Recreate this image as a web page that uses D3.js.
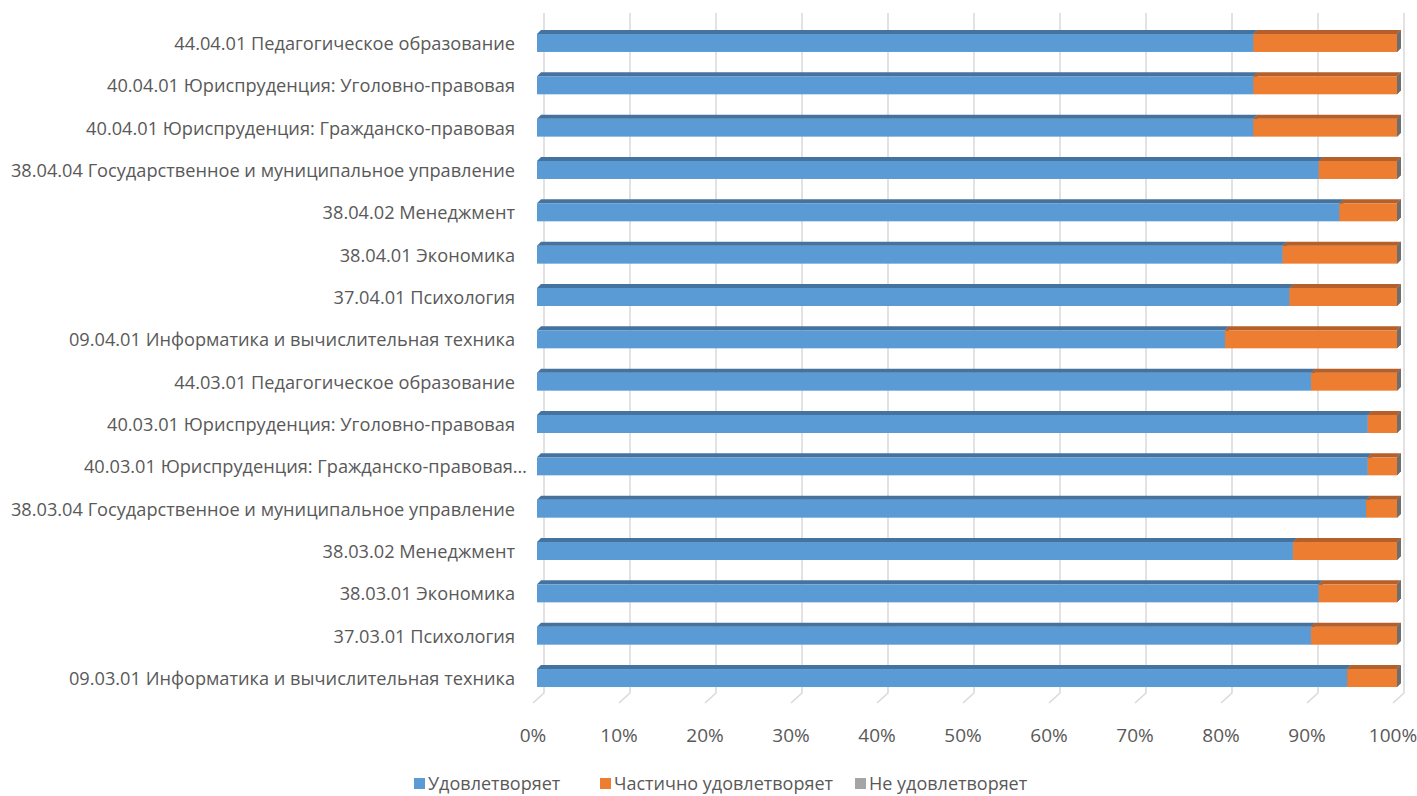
<!DOCTYPE html>
<html><head><meta charset="utf-8">
<script src="https://cdn.jsdelivr.net/npm/d3@7"></script>
<style>html,body{margin:0;padding:0;background:#fff;overflow:hidden}</style>
</head><body>
<svg id="c" width="1417" height="796"></svg>
<script>
const categories = [
  "44.04.01 Педагогическое образование",
  "40.04.01 Юриспруденция: Уголовно-правовая",
  "40.04.01 Юриспруденция: Гражданско-правовая",
  "38.04.04 Государственное и муниципальное управление",
  "38.04.02 Менеджмент",
  "38.04.01 Экономика",
  "37.04.01 Психология",
  "09.04.01 Информатика и вычислительная техника",
  "44.03.01 Педагогическое образование",
  "40.03.01 Юриспруденция: Уголовно-правовая",
  "40.03.01 Юриспруденция: Гражданско-правовая…",
  "38.03.04 Государственное и муниципальное управление",
  "38.03.02 Менеджмент",
  "38.03.01 Экономика",
  "37.03.01 Психология",
  "09.03.01 Информатика и вычислительная техника"
];
const seriesNames = ["Удовлетворяет", "Частично удовлетворяет", "Не удовлетворяет"];
const satisfied = [83.3, 83.3, 83.3, 90.9, 93.3, 86.7, 87.5, 80.0, 90.0, 96.6, 96.6, 96.4, 87.9, 90.9, 90.0, 94.2];
const partial   = [16.7, 16.7, 16.7, 9.1, 6.7, 13.3, 12.5, 20.0, 10.0, 3.4, 3.4, 3.6, 12.1, 9.1, 10.0, 5.8];
const notSat    = [0, 0, 0, 0, 0, 0, 0, 0, 0, 0, 0, 0, 0, 0, 0, 0];
const tickValues = [0, 0.1, 0.2, 0.3, 0.4, 0.5, 0.6, 0.7, 0.8, 0.9, 1.0];

const colors = {front:["#5b9bd5","#ed7d31","#a5a5a5"], top:["#4473a0","#b5602a","#7c7c7c"], side:["#3e6a94","#a9561f","#6e6e6e"]};

const svg = d3.select("#c");
const rows = categories.map((c,i)=>({cat:c, vals:[satisfied[i], partial[i], notSat[i]]}));
const stack = d3.stack().keys([0,1,2]).value((d,k)=>d.vals[k]).offset(d3.stackOffsetExpand);
const layers = stack(rows);

const x = d3.scaleLinear().domain([0,1]).range([537,1397]);
const y = d3.scaleBand().domain(categories).range([21.8, 699.2]).paddingInner(0.575).paddingOuter(0.2875);
const dx = 4, dy = -4;
const bdx = 7, gTop = 13, gBot = 693, fdx = -11, fdy = 10;

// gridlines (back wall + floor diagonals)
const grid = svg.append("g");
tickValues.forEach(t=>{
  const bx = x(t)+bdx;
  grid.append("path").attr("d",`M${bx},${gTop}L${bx},${gBot}L${bx+fdx},${gBot+fdy}`)
    .attr("fill","none").attr("stroke","#d9d9d9").attr("stroke-width",1.5);
});

// axis labels
const fmt = d3.format(".0%");
svg.append("g").selectAll("text").data(tickValues).join("text")
  .attr("x",d=>x(d)-4).attr("y",742).attr("text-anchor","middle")
  .attr("font-family","Open Sans, sans-serif").attr("font-size",19).attr("fill","#595959")
  .text(d=>fmt(d));

// bars
const bars = svg.append("g");
rows.forEach((r,i)=>{
  const y0 = y(r.cat), h = y.bandwidth();
  layers.forEach((L,k)=>{
    const a = x(L[i][0]), b = x(L[i][1]);
    bars.append("rect").attr("x",a).attr("y",y0).attr("width",Math.max(0,b-a)).attr("height",h)
      .attr("fill",colors.front[k]);
    bars.append("path").attr("d",`M${a},${y0}L${b},${y0}L${b+dx},${y0+dy}L${a+dx},${y0+dy}Z`)
      .attr("fill",colors.top[k]);
    bars.append("path").attr("d",`M${b},${y0}L${b+dx},${y0+dy}L${b+dx},${y0+h+dy}L${b},${y0+h}Z`)
      .attr("fill",colors.side[k]);
  });
});

// category labels
svg.append("g").selectAll("text").data(categories).join("text")
  .attr("x",d=>d.endsWith("…")?527:515).attr("y",d=>y(d)+y.bandwidth()/2+2)
  .attr("dominant-baseline","middle").attr("text-anchor","end")
  .attr("font-family","Open Sans, sans-serif").attr("font-size",18.2).attr("fill","#595959")
  .text(d=>d);

// legend
const legX = [414, 600, 855];
const leg = svg.append("g");
seriesNames.forEach((n,k)=>{
  leg.append("rect").attr("x",legX[k]).attr("y",778).attr("width",11).attr("height",11).attr("fill",colors.front[k]);
  leg.append("text").attr("x",legX[k]+14).attr("y",790).attr("font-family","Open Sans, sans-serif")
    .attr("font-size",18).attr("fill","#595959").text(n);
});
</script>
</body></html>
